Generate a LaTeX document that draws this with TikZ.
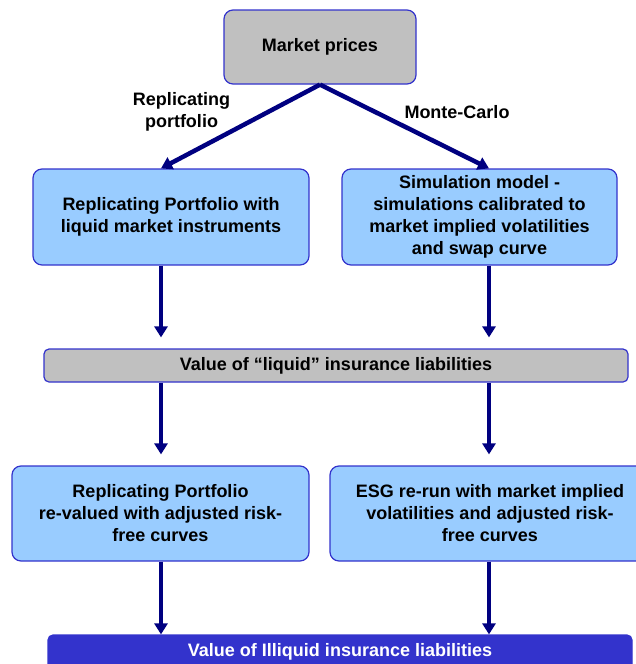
\documentclass[tikz,border=0pt]{standalone}
\usepackage{fontspec}
\setmainfont{Liberation Sans}
\usetikzlibrary{arrows.meta,calc}
\definecolor{bordblue}{HTML}{3333CC}
\definecolor{grayfill}{HTML}{C0C0C0}
\definecolor{lightblue}{HTML}{99CCFF}
\definecolor{navyarrow}{HTML}{000080}
\begin{document}
\begin{tikzpicture}[x=1pt,y=-1pt,
  box/.style={draw=bordblue,line width=1.2pt,rounded corners=9pt,align=center,
    font=\fontsize{18}{22}\selectfont\bfseries,inner sep=0pt},
  graybox/.style={box,fill=grayfill},
  bluebox/.style={box,fill=lightblue},
  darkbar/.style={box,fill=bordblue,text=white,rounded corners=5pt},
  flow/.style={draw=navyarrow,line width=4.5pt,-{Triangle[width=13pt,length=11pt]}},
  lbl/.style={font=\fontsize{18}{22}\selectfont\bfseries,align=center,inner sep=0pt}]
\useasboundingbox (0,0) rectangle (636,664);
\node[graybox,minimum width=192pt,minimum height=74pt] (mkt) at (320,47) {Market prices};
\node[bluebox,minimum width=276pt,minimum height=96pt] (rp) at (171,217)
  {Replicating Portfolio with\\liquid market instruments};
\node[bluebox,minimum width=275pt,minimum height=96pt] (sim) at (479.5,217)
  {Simulation model -\\simulations calibrated to\\market implied volatilities\\and swap curve};
\node[graybox,rounded corners=5pt,minimum width=584pt,minimum height=33pt] (liq) at (336,365.5)
  {Value of “liquid” insurance liabilities};
\node[bluebox,minimum width=297pt,minimum height=95pt] (rp2) at (160.5,513.5)
  {Replicating Portfolio\\re-valued with adjusted risk-\\free curves};
\node[bluebox,minimum width=320pt,minimum height=95pt] (esg) at (490,513.5)
  {ESG re-run with market implied\\volatilities and adjusted risk-\\free curves};
\node[darkbar,minimum width=584pt,minimum height=34pt] (ill) at (340,652)
  {Value of Illiquid insurance liabilities};
\node[lbl] (l1) at (181.5,112) {Replicating\\portfolio};
\node[lbl] (l2) at (457,112) {Monte-Carlo};
\coordinate (xl) at (161,0);
\coordinate (xr) at (489,0);
\draw[flow] (mkt.south) -- (rp.north -| xl);
\draw[flow] (mkt.south) -- (sim.north -| xr);
\draw[flow] (rp.south -| xl) -- ($(liq.north -| xl)+(0,-11)$);
\draw[flow] (sim.south -| xr) -- ($(liq.north -| xr)+(0,-11)$);
\draw[flow] (liq.south -| xl) -- ($(rp2.north -| xl)+(0,-11)$);
\draw[flow] (liq.south -| xr) -- ($(esg.north -| xr)+(0,-11)$);
\draw[flow] (rp2.south -| xl) -- (ill.north -| xl);
\draw[flow] (esg.south -| xr) -- (ill.north -| xr);
\end{tikzpicture}
\end{document}
